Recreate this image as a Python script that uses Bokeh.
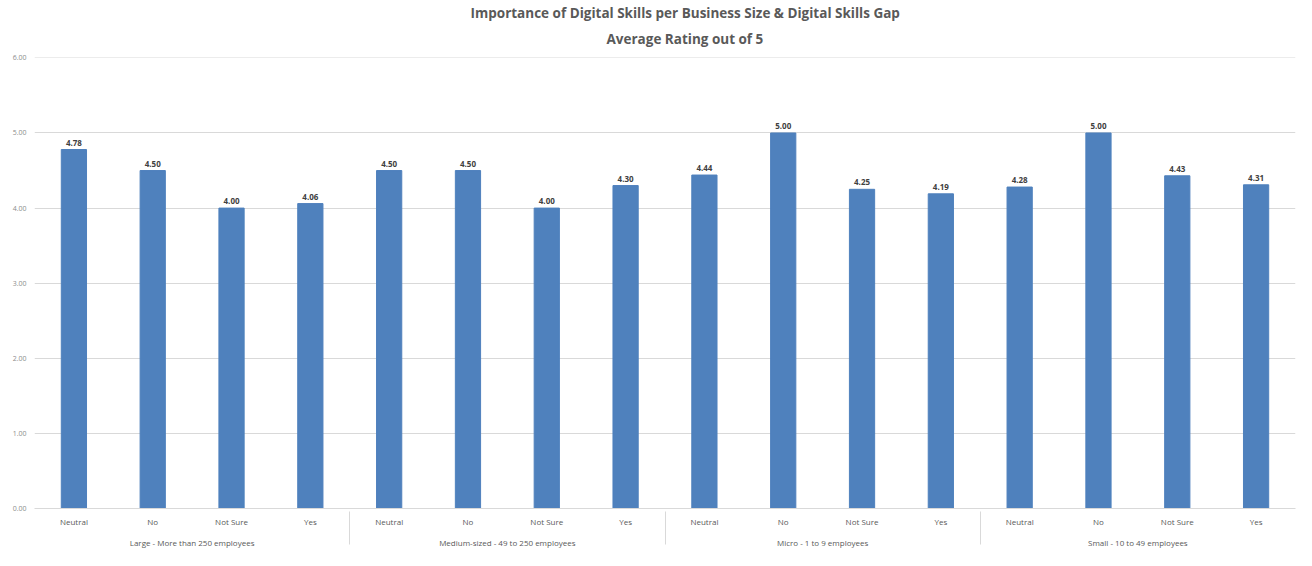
from bokeh.plotting import figure
from bokeh.models import FactorRange, ColumnDataSource, Title, NumeralTickFormatter, FixedTicker, Range1d
from bokeh.core.properties import value
from bokeh.embed import file_html
from bokeh.resources import INLINE

groups = ["Large - More than 250 employees", "Medium-sized - 49 to 250 employees",
          "Micro - 1 to 9 employees", "Small - 10 to 49 employees"]
answers = ["Neutral", "No", "Not Sure", "Yes"]
large = [4.78, 4.50, 4.00, 4.06]
medium = [4.50, 4.50, 4.00, 4.30]
micro = [4.44, 5.00, 4.25, 4.19]
small = [4.28, 5.00, 4.43, 4.31]
y_ticks = [0, 1, 2, 3, 4, 5, 6]
title_lines = ["Importance of Digital Skills per Business Size & Digital Skills Gap",
               "Average Rating out of 5"]

factors = [(g, a) for g in groups for a in answers]
vals = large + medium + micro + small
src = ColumnDataSource(dict(x=factors, v=vals, lbl=[f"{v:.2f}" for v in vals]))

FONT = "Open Sans"

x_range = FactorRange(*factors, group_padding=0, factor_padding=0, range_padding=0)
p = figure(x_range=x_range, y_range=Range1d(0, 6.005), width=1296, height=550,
           output_backend="svg", toolbar_location=None, title=None,
           min_border_left=34, min_border_right=1, min_border_top=57, min_border_bottom=0)

p.vbar(x='x', top='v', width=0.32, color="#4F81BD", source=src)
p.text(x='x', y='v', text='lbl', text_align='center', text_baseline='bottom', y_offset=-4,
       text_font=value(FONT), text_font_style='bold', text_font_size='8px',
       text_color='#404040', source=src)

# second line first (closest to frame), then first line above it
p.add_layout(Title(text=title_lines[1], align="left", offset=572, standoff=20,
                   text_font=FONT, text_font_style="bold", text_font_size="13.5px",
                   text_color="#595959", text_line_height=1.0), "above")
p.add_layout(Title(text=title_lines[0], align="left", offset=436, standoff=-8,
                   text_font=FONT, text_font_style="bold", text_font_size="13.5px",
                   text_color="#595959", text_line_height=1.0), "above")

p.outline_line_color = None
p.xgrid.grid_line_color = None
p.ygrid.grid_line_color = "#d9d9d9"
p.ygrid.ticker = FixedTicker(ticks=y_ticks)

ya = p.yaxis[0]
ya.ticker = FixedTicker(ticks=y_ticks)
ya.formatter = NumeralTickFormatter(format="0.00")
ya.axis_line_color = None
ya.major_tick_line_color = None
ya.minor_tick_line_color = None
ya.major_tick_out = 0
ya.major_label_text_font = FONT
ya.major_label_text_font_size = "7px"
ya.major_label_text_color = "#8c8c8c"
ya.major_label_standoff = 8

xa = p.xaxis[0]
xa.axis_line_color = "#d9d9d9"
xa.major_tick_line_color = None
xa.minor_tick_line_color = None
xa.major_tick_out = 0
xa.major_label_orientation = "horizontal"
xa.major_label_text_font = FONT
xa.major_label_text_font_size = "8px"
xa.major_label_text_color = "#595959"
xa.major_label_standoff = 7
xa.group_text_font = FONT
xa.group_text_font_size = "8px"
xa.group_text_color = "#595959"
xa.group_text_font_style = "normal"
xa.separator_line_color = "#d9d9d9"
xa.separator_line_width = 1

open("out.html", "w").write(file_html(p, INLINE))
